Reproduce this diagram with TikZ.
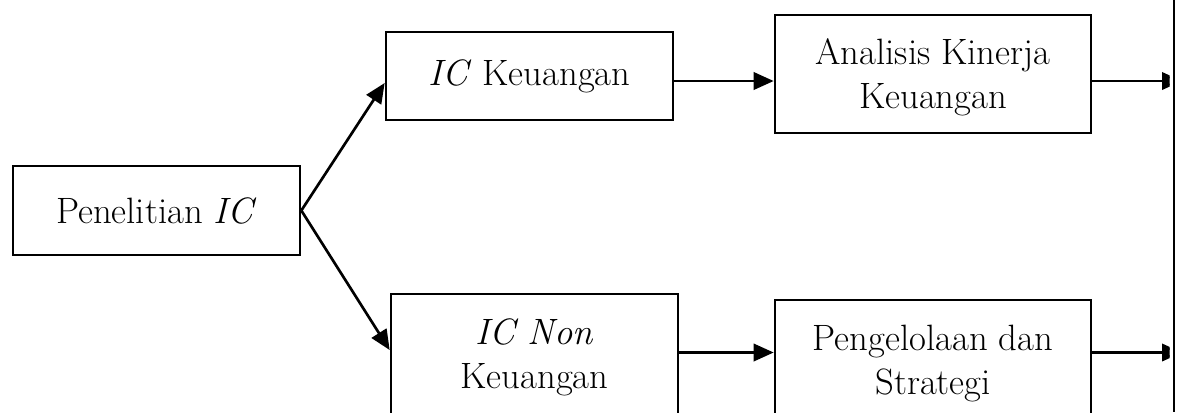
\documentclass[tikz,border=0pt]{standalone}
\usetikzlibrary{arrows.meta}
\begin{document}
\begin{tikzpicture}[x=0.75pt,y=-0.75pt,
  box/.style={draw, line width=2pt, inner sep=0pt, align=center,
    font=\fontsize{27.5}{33}\selectfont},
  arr/.style={line width=2pt, -{Triangle[length=15pt,width=13pt]}},
  edge/.style={line width=2.2pt}]
\useasboundingbox (0,0) rectangle (1180,412);
\begin{scope}
\clip (0,0) rectangle (1180,412);
\node[box, minimum width=287*0.75pt, minimum height=89*0.75pt] (pen) at (156.5,210.5) {Penelitian \textit{IC}};
\node[box, minimum width=287*0.75pt, minimum height=88*0.75pt] (ick) at (529.5,76) {\textit{IC} Keuangan};
\node[box, minimum width=316*0.75pt, minimum height=118*0.75pt, text depth=0pt] (ana) at (933,74) {\rule{0pt}{0pt}Analisis Kinerja\\Keuangan};
\node[box, minimum width=287*0.75pt, minimum height=126*0.75pt] (icn) at (534.5,357) {\textit{IC Non}\\Keuangan};
\node[box, minimum width=316*0.75pt, minimum height=128*0.75pt] (peng) at (933,364) {Pengelolaan dan\\Strategi};
\coordinate (r1) at (0,81);
\coordinate (r2) at (0,352.5);
\draw[arr] (pen.east) -- ([yshift=-5.25pt]ick.west);
\draw[arr] (pen.east) -- ([yshift=5.25pt]icn.west);
\draw[arr] (ick.east |- r1) -- (ana.west |- r1);
\draw[arr] (icn.east |- r2) -- (peng.west |- r2);
\end{scope}
\begin{scope}
\clip (0,0) rectangle (1169.5,412);
\coordinate (e1) at (1182,81);
\coordinate (e2) at (1182,352.5);
\draw[arr] (ana.east |- r1) -- (e1);
\draw[arr] (peng.east |- r2) -- (e2);
\end{scope}
\coordinate (vt) at (1174,0);
\coordinate (vb) at (1174,412);
\draw[edge] (vt) -- (vb);
\end{tikzpicture}
\end{document}
